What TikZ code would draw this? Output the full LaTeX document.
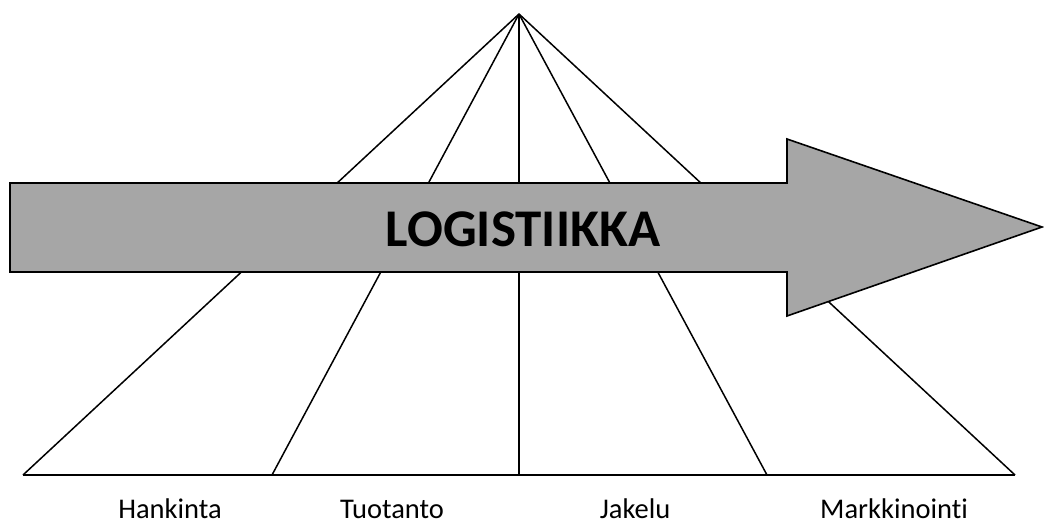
\documentclass[tikz,border=0pt]{standalone}
\usepackage{fontspec}
\setmainfont{Carlito}[Ligatures=NoCommon]
\begin{document}
\begin{tikzpicture}[x=1pt,y=-1pt,
  ray/.style={line width=1.5pt, line join=round},
  band/.style={draw=black, line width=1.6pt, fill=arrowgray, line join=miter},
  phase/.style={font=\fontsize{28.5}{30}\selectfont, inner sep=0pt, anchor=base},
  title/.style={font=\bfseries\fontsize{53}{56}\selectfont, inner sep=0pt}]
\definecolor{arrowgray}{HTML}{A6A6A6}
\useasboundingbox (0,0) rectangle (1044,530);

% apex and base points of the fan
\coordinate (top) at (519,14);
\coordinate (b1) at (23,475);
\coordinate (b2) at (272,475);
\coordinate (b3) at (519,475);
\coordinate (b4) at (767,475);
\coordinate (b5) at (1015,475);

\draw[ray] (b1) -- (b5);
\foreach \p in {b1,b2,b3,b4,b5} \draw[ray] (top) -- (\p);

% broad arrow across the fan
\draw[band] (10,183) -- (787,183) -- (787,139) -- (1042,227)
  -- (787,316) -- (787,272) -- (10,272) -- cycle;
\node[title] (logi) at (523,229) {LOGISTIIKKA};

% phases under the base line
\node[phase] (hank) at (170,518) {Hankinta};
\node[phase] (tuot) at (392,518) {Tuotanto};
\node[phase] (jake) at (635,518) {Jakelu};
\node[phase] (mark) at (894,518) {Markkinointi};
\end{tikzpicture}
\end{document}
